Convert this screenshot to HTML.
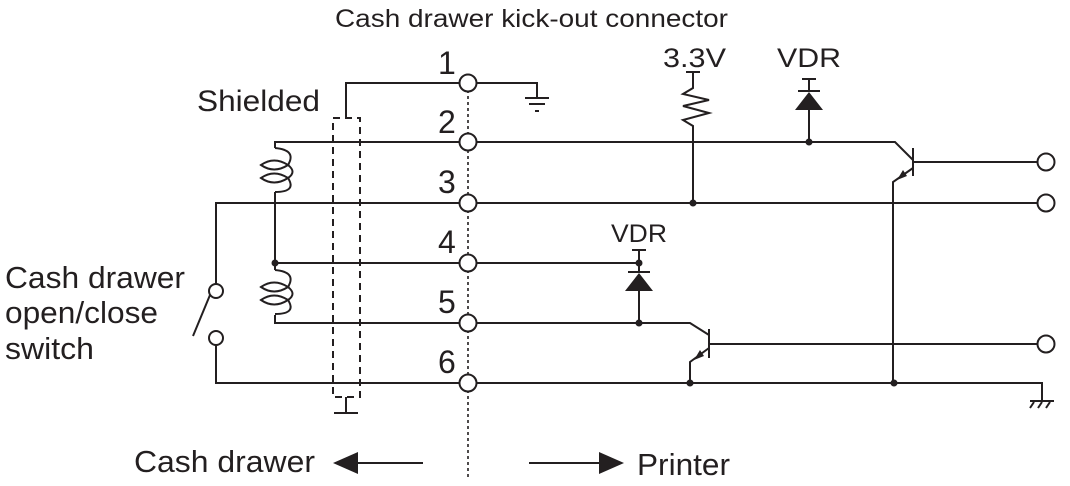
<!DOCTYPE html>
<html><head><meta charset="utf-8"><style>
html,body{margin:0;padding:0;background:#fff;}
svg{display:block;}
text{font-family:"Liberation Sans",Arial,sans-serif;fill:#231f20;}
</style></head><body>
<svg width="1070" height="486" viewBox="0 0 1070 486" xmlns="http://www.w3.org/2000/svg">
<g stroke="#231f20" stroke-width="2" fill="none">
<line x1="468" y1="90" x2="468" y2="480" stroke-dasharray="3,3" stroke-width="1.6"/>
<rect x="333" y="118" width="27" height="279" stroke-dasharray="7,5"/>
<polyline points="346,118 346,83 459,83"/>
<polyline points="477,83 537,83 537,97"/>
<line x1="525" y1="98" x2="549" y2="98"/><line x1="529" y1="104" x2="545" y2="104"/><line x1="535" y1="111" x2="539" y2="111"/>
<line x1="346" y1="397" x2="346" y2="412"/><line x1="334" y1="413" x2="358" y2="413"/>
<polyline points="459,142 275,142 275,148"/>
<line x1="275" y1="192" x2="275" y2="270"/>
<line x1="275" y1="263" x2="459" y2="263"/>
<polyline points="275,315 275,323 459,323"/>
<polyline points="459,203 216,203 216,284"/>
<polyline points="216,345 216,383 459,383"/>
<circle cx="216" cy="291" r="7"/><circle cx="216" cy="338" r="7"/>
<line x1="193" y1="336" x2="210" y2="295"/>
<path d="M275,148 Q297,150 288,165 Q297,172 288,178 Q297,192 275,192"/>
<path d="M261,165 Q274,156 288,165 Q274,174 261,165 Z"/>
<path d="M261,178 Q274,169 288,178 Q274,187 261,178 Z"/>
<g transform="translate(0,122)">
<path d="M275,148 Q297,150 288,165 Q297,172 288,178 Q297,192 275,192"/>
<path d="M261,165 Q274,156 288,165 Q274,174 261,165 Z"/>
<path d="M261,178 Q274,169 288,178 Q274,187 261,178 Z"/>
</g>
<polyline points="477,142 895,142 913,160"/>
<line x1="477" y1="203" x2="1037" y2="203"/>
<line x1="477" y1="263" x2="639" y2="263"/>
<polyline points="477,323 690,323 709,335"/>
<polyline points="477,383 1042,383 1042,400"/>
<line x1="1030" y1="401" x2="1054" y2="401"/>
<line x1="1034" y1="402" x2="1030" y2="408"/><line x1="1042" y1="402" x2="1038" y2="408"/><line x1="1050" y1="402" x2="1046" y2="408"/>
<line x1="686" y1="72" x2="700" y2="72"/>
<polyline points="693,72 693,88 683,94 709,100 683,106 709,113 683,120 693,126 693,203"/>
<line x1="802" y1="79" x2="816" y2="79"/><line x1="809" y1="79" x2="809" y2="91"/>
<line x1="798" y1="91" x2="820" y2="91"/>
<line x1="809" y1="108" x2="809" y2="142"/>
<line x1="632" y1="250" x2="646" y2="250"/><line x1="639" y1="250" x2="639" y2="272"/>
<line x1="628" y1="272" x2="650" y2="272"/>
<line x1="639" y1="288" x2="639" y2="323"/>
<line x1="913" y1="148" x2="913" y2="176"/>
<line x1="913" y1="162" x2="1037" y2="162"/>
<polyline points="913,168 893,182 893,383"/>
<line x1="709" y1="329" x2="709" y2="358"/>
<line x1="709" y1="344" x2="1037" y2="344"/>
<polyline points="709,348 690,362 690,383"/>
<g fill="#fff">
<circle cx="468" cy="83" r="8.5"/><circle cx="468" cy="142" r="8.5"/><circle cx="468" cy="203" r="8.5"/>
<circle cx="468" cy="263" r="8.5"/><circle cx="468" cy="323" r="8.5"/><circle cx="468" cy="383" r="8.5"/>
<circle cx="1046" cy="162" r="8.5"/><circle cx="1046" cy="203" r="8.5"/><circle cx="1046" cy="344" r="8.5"/>
</g>
<line x1="350" y1="463" x2="423" y2="463"/>
<line x1="529" y1="463" x2="605" y2="463"/>
</g>
<g fill="#231f20">
<polygon points="809,92 795,110 823,110"/>
<polygon points="639,273 625,291 653,291"/>
<polygon points="897,180 903,170 907,176"/>
<polygon points="694,360 700,350 704,356"/>
<circle cx="809" cy="142" r="3.5"/><circle cx="693" cy="203" r="3.5"/>
<circle cx="639" cy="263" r="3.5"/><circle cx="639" cy="323" r="3.5"/>
<circle cx="690" cy="383" r="3.5"/><circle cx="894" cy="383" r="3.5"/>
<circle cx="275" cy="263" r="3.5"/>
<polygon points="333,463 358,452 358,474"/>
<polygon points="624,463 599,452 599,474"/>
</g>
<text x="335" y="27" font-size="25" textLength="393" lengthAdjust="spacingAndGlyphs">Cash drawer kick-out connector</text>
<text x="663" y="67" font-size="27" textLength="63" lengthAdjust="spacingAndGlyphs">3.3V</text>
<text x="777" y="67" font-size="27" textLength="64" lengthAdjust="spacingAndGlyphs">VDR</text>
<text x="611" y="242" font-size="25" textLength="56" lengthAdjust="spacingAndGlyphs">VDR</text>
<text x="197" y="111" font-size="30" textLength="123" lengthAdjust="spacingAndGlyphs">Shielded</text>
<g font-size="32">
<text x="438" y="74">1</text><text x="438" y="133">2</text><text x="438" y="193">3</text>
<text x="438" y="253">4</text><text x="438" y="313">5</text><text x="438" y="373">6</text>
</g>
<g font-size="31">
<text x="5" y="288" textLength="180" lengthAdjust="spacingAndGlyphs">Cash drawer</text>
<text x="5" y="323" textLength="153" lengthAdjust="spacingAndGlyphs">open/close</text>
<text x="5" y="359" textLength="89" lengthAdjust="spacingAndGlyphs">switch</text>
<text x="134" y="472" textLength="181" lengthAdjust="spacingAndGlyphs">Cash drawer</text>
<text x="637" y="475" textLength="93" lengthAdjust="spacingAndGlyphs">Printer</text>
</g>
</svg>
</body></html>
